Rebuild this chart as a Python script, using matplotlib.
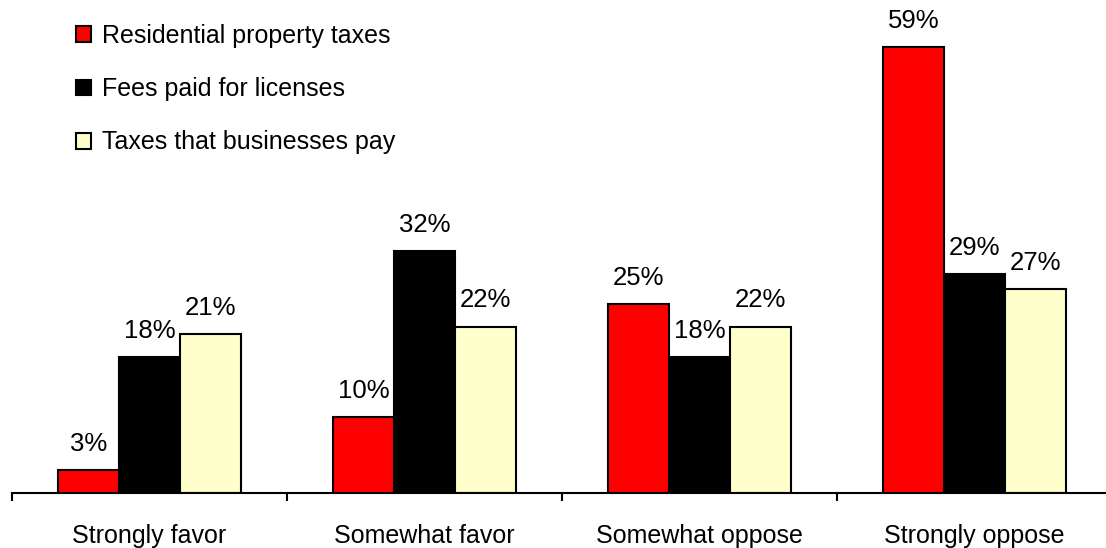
import numpy as np
import matplotlib.pyplot as plt
from matplotlib.patches import Patch

plt.rcParams['font.family'] = ['Liberation Sans', 'DejaVu Sans']

# Survey responses by tax type
categories = ["Strongly favor", "Somewhat favor", "Somewhat oppose", "Strongly oppose"]
series_names = ["Residential property taxes", "Fees paid for licenses", "Taxes that businesses pay"]
residential = [3, 10, 25, 59]
fees = [18, 32, 18, 29]
business = [21, 22, 22, 27]
colors = ["#ff0000", "#000000", "#ffffcc"]

W, H = 1106, 548
fig = plt.figure(figsize=(W / 100, H / 100), dpi=100)
# axes span 4 groups of ~275 px starting at x=12, baseline at y=493
ax = fig.add_axes([12 / W, 55 / H, 1100 / W, 491 / H])

x = np.arange(len(categories))
width = 0.222
for i, (vals, name, c) in enumerate(zip([residential, fees, business], series_names, colors)):
    pos = x + (i - 1) * width
    ax.bar(pos, vals, width, color=c, edgecolor="black", linewidth=1.5, label=name, zorder=2)
    for px, v in zip(pos, vals):
        ax.text(px, v + 1.9, f"{v}%", ha="center", va="bottom", fontsize=18.5)

ax.set_xlim(-0.5, len(categories) - 0.5)
ax.set_ylim(0, 65)

for s in ["top", "right", "left"]:
    ax.spines[s].set_visible(False)
ax.spines["bottom"].set_linewidth(1.5)
ax.set_yticks([])

# boundary ticks between groups, labels at group centres
ax.set_xticks(np.arange(len(categories) + 1) - 0.5)
ax.set_xticklabels([])
ax.tick_params(axis="x", which="major", direction="out", length=6, width=1.5)
ax.set_xticks(x, minor=True)
ax.set_xticklabels(categories, minor=True, fontsize=18)
ax.tick_params(axis="x", which="minor", length=0, pad=22)

handles = [Patch(facecolor=c, edgecolor="black", linewidth=1.5) for c in colors]
fig.legend(handles, series_names, loc="upper left", bbox_to_anchor=(76 / W, 1 - 24 / H),
           frameon=False, fontsize=18, handlelength=0.6, handleheight=0.6,
           handletextpad=0.45, labelspacing=1.17, borderaxespad=0, borderpad=0)

fig.savefig("out.png", dpi=100)
